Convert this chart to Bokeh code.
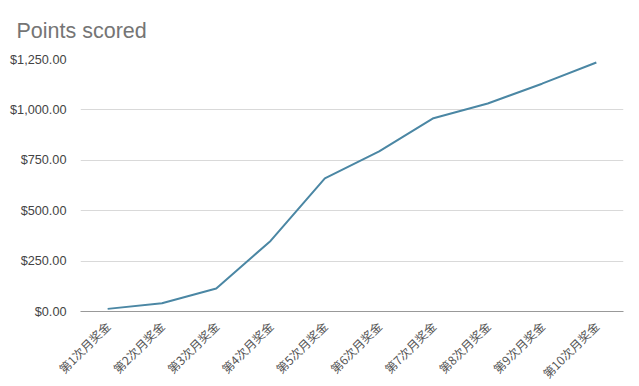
import math
from bokeh.plotting import figure
from bokeh.models import Range1d, NumeralTickFormatter, FixedTicker
from bokeh.embed import file_html
from bokeh.resources import INLINE

categories = ["第1次月奖金", "第2次月奖金", "第3次月奖金", "第4次月奖金", "第5次月奖金",
              "第6次月奖金", "第7次月奖金", "第8次月奖金", "第9次月奖金", "第10次月奖金"]
points = [13, 41, 114, 350, 660, 794, 959, 1032, 1130, 1235]
y_ticks = [0, 250, 500, 750, 1000, 1250]

p = figure(x_range=categories, y_range=Range1d(0, 1250),
           frame_width=543, frame_height=252,
           output_backend="svg", toolbar_location=None,
           min_border_left=80, min_border_right=16, min_border_top=58, min_border_bottom=76)

p.line(x=categories, y=points, line_color="#4b87a4", line_width=2)

p.title.text = "Points scored"
p.title.text_font = "Liberation Sans"
p.title.text_font_size = "21.5px"
p.title.text_font_style = "normal"
p.title.text_color = "#757575"
p.title.offset = -64
p.title.standoff = 33

p.outline_line_color = None
p.xgrid.grid_line_color = None
p.ygrid.grid_line_color = "#d9d9d9"
p.ygrid.grid_line_width = 1

p.yaxis.ticker = FixedTicker(ticks=y_ticks)
p.yaxis.formatter = NumeralTickFormatter(format="$0,0.00")
p.yaxis.axis_line_color = None
p.yaxis.major_tick_line_color = None
p.yaxis.minor_tick_line_color = None
p.yaxis.major_label_text_font = "Liberation Sans"
p.yaxis.major_label_text_font_size = "12.7px"
p.yaxis.major_label_text_color = "#444444"
p.yaxis.major_label_standoff = 8

p.xaxis.axis_line_color = "#999999"
p.xaxis.major_tick_line_color = None
p.xaxis.minor_tick_line_color = None
p.xaxis.major_label_orientation = math.pi / 4
p.xaxis.major_label_text_font = "Noto Sans CJK SC"
p.xaxis.major_label_text_font_size = "12px"
p.xaxis.major_label_text_color = "#555555"
p.xaxis.major_label_standoff = 6

open("out.html", "w").write(file_html(p, INLINE))
